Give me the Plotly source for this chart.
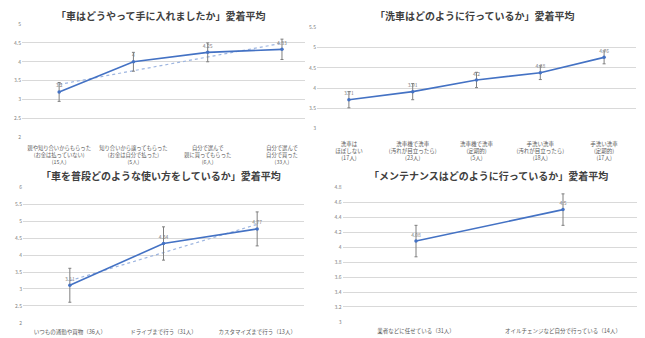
import numpy as np
import plotly.graph_objects as go

# ---------------- data ----------------
# Panel 1: 「車はどうやって手に入れましたか」
acq_title = "「車はどうやって手に入れましたか」愛着平均"
acq_categories = [
    "親や知り合いからもらった<br>(お金は払っていない)<br>(15人)",
    "知り合いから譲ってもらった<br>(お金は自分で払った)<br>(5人)",
    "自分で選んで<br>親に買ってもらった<br>(6人)",
    "自分で選んで<br>自分で買った<br>(33人)",
]
acq_values = [3.2, 4.0, 4.25, 4.33]
acq_errors = [0.25, 0.25, 0.25, 0.27]
acq_ticks = [2, 2.5, 3, 3.5, 4, 4.5, 5]

# Panel 2: 「洗車はどのように行っているか」
wash_title = "「洗車はどのように行っているか」愛着平均"
wash_categories = [
    "洗車は<br>ほぼしない<br>(17人)",
    "洗車機で洗車<br>(汚れが目立ったら)<br>(23人)",
    "洗車機で洗車<br>(定期的)<br>(5人)",
    "手洗い洗車<br>(汚れが目立ったら)<br>(18人)",
    "手洗い洗車<br>(定期的)<br>(17人)",
]
wash_values = [3.71, 3.91, 4.2, 4.38, 4.76]
wash_errors = [0.2, 0.2, 0.19, 0.17, 0.16]
wash_ticks = [3, 3.5, 4, 4.5, 5, 5.5]

# Panel 3: 「車を普段どのような使い方をしているか」
use_title = "「車を普段どのような使い方をしているか」愛着平均"
use_categories = [
    "いつもの通勤や買物（36人）",
    "ドライブまで行う（31人）",
    "カスタマイズまで行う（13人）",
]
use_values = [3.11, 4.34, 4.77]
use_errors = [0.5, 0.49, 0.5]
use_ticks = [2, 2.5, 3, 3.5, 4, 4.5, 5, 5.5, 6]

# Panel 4: 「メンテナンスはどのように行っているか」
maint_title = "「メンテナンスはどのように行っているか」愛着平均"
maint_categories = [
    "業者などに任せている（31人）",
    "オイルチェンジなど自分で行っている（14人）",
]
maint_values = [4.08, 4.5]
maint_errors = [0.21, 0.21]
maint_ticks = [3, 3.2, 3.4, 3.6, 3.8, 4, 4.2, 4.4, 4.6, 4.8]

# ---------------- styling / layout ----------------
W, H = 645, 338
FONT = "Noto Sans CJK JP"
LINE = "#4472C4"
TREND = "#9DB5E0"
GRID = "#D9D9D9"


def fx(px):
    return px / W


def fy(py):
    return 1 - py / H


panels = [
    dict(cats=acq_categories, vals=acq_values, errs=acq_errors, ticks=acq_ticks, title=acq_title,
         trend=True, xdom=(22, 305), xr=(-0.5, 3.31), ydom=(136, 20.5), tfs=5.3, so=7,
         title_pos=(161, 12)),
    dict(cats=wash_categories, vals=wash_values, errs=wash_errors, ticks=wash_ticks, title=wash_title,
         trend=False, xdom=(317, 636), xr=(-0.5, 4.5), ydom=(127, 24), tfs=5.5, so=11,
         title_pos=(475, 12)),
    dict(cats=use_categories, vals=use_values, errs=use_errors, ticks=use_ticks, title=use_title,
         trend=True, xdom=(23, 304), xr=(-0.5, 2.5), ydom=(325.7, 187), tfs=5.5, so=5,
         title_pos=(161, 175)),
    dict(cats=maint_categories, vals=maint_values, errs=maint_errors, ticks=maint_ticks, title=maint_title,
         trend=False, xdom=(342.5, 636.5), xr=(-0.5, 1.5), ydom=(324.7, 187), tfs=5.5, so=5,
         title_pos=(488, 175)),
]

fig = go.Figure()
layout = dict(
    width=W, height=H, margin=dict(l=0, r=0, t=0, b=0),
    paper_bgcolor="white", plot_bgcolor="white", showlegend=False,
    font=dict(family=FONT, color="#595959"),
    annotations=[],
)

for i, p in enumerate(panels, start=1):
    xa = "x" if i == 1 else f"x{i}"
    ya = "y" if i == 1 else f"y{i}"
    xs = list(range(len(p["cats"])))
    if p["trend"]:
        coef = np.polyfit(xs, p["vals"], 1)
        fig.add_trace(go.Scatter(
            x=xs, y=list(np.polyval(coef, xs)), mode="lines",
            line=dict(color=TREND, width=1.2, dash="dot"),
            xaxis=xa, yaxis=ya, hoverinfo="skip"))
    fig.add_trace(go.Scatter(
        x=xs, y=p["vals"], mode="lines+markers+text",
        line=dict(color=LINE, width=1.6),
        marker=dict(color=LINE, size=3.5),
        error_y=dict(type="data", array=p["errs"], color="#7F7F7F", thickness=1, width=1.5),
        text=[f"{v:g}" for v in p["vals"]], textposition="top center",
        textfont=dict(size=5, color="#7F7F7F", family=FONT),
        xaxis=xa, yaxis=ya))

    xkey = "xaxis" if i == 1 else f"xaxis{i}"
    ykey = "yaxis" if i == 1 else f"yaxis{i}"
    layout[xkey] = dict(
        domain=[fx(p["xdom"][0]), fx(p["xdom"][1])], range=list(p["xr"]),
        anchor=ya, tickvals=xs, ticktext=p["cats"], tickangle=0, showgrid=False, zeroline=False,
        showline=False, ticks="", ticklabelstandoff=p["so"],
        tickfont=dict(size=p["tfs"], color="#595959", family=FONT),
        fixedrange=True)
    layout[ykey] = dict(
        domain=[fy(p["ydom"][0]), fy(p["ydom"][1])], range=[p["ticks"][0], p["ticks"][-1]],
        anchor=xa, tickvals=p["ticks"], ticktext=[f"{t:g}" for t in p["ticks"]],
        showgrid=True, gridcolor=GRID, gridwidth=1, zeroline=False, showline=False,
        ticks="", tickfont=dict(size=5, color="#7F7F7F", family=FONT), fixedrange=True)
    layout["annotations"].append(dict(
        text=f"<b>{p['title']}</b>", x=fx(p["title_pos"][0]), y=fy(p["title_pos"][1]),
        xref="paper", yref="paper", xanchor="center", yanchor="middle", showarrow=False,
        font=dict(size=10, color="#404040", family=FONT)))

fig.update_layout(**layout)
fig.write_html("out.html")
